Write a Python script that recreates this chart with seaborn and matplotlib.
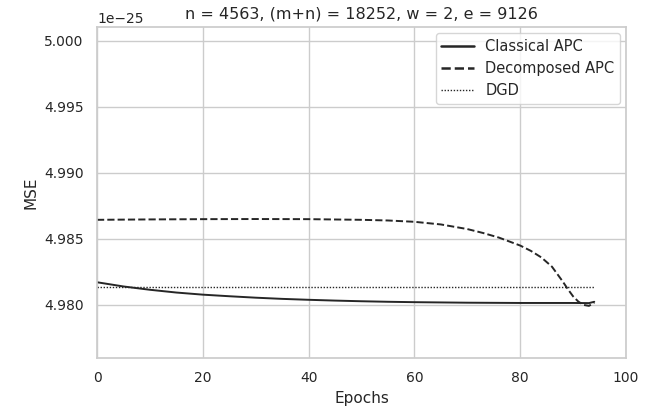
import numpy as np
import pandas as pd
import matplotlib
matplotlib.use("Agg")
import matplotlib.pyplot as plt
import seaborn as sns
from matplotlib.ticker import ScalarFormatter

# -----------------------------
# data (MSE in units of 1e-25)
# -----------------------------
classical_epochs = [0, 5, 10, 15, 20, 25, 30, 35, 40, 45, 50, 55, 60, 65, 70,
                    75, 80, 85, 90, 93, 94]
classical_mse = [4.98172, 4.98140, 4.98115, 4.98094, 4.98078, 4.98066, 4.98055,
                 4.98046, 4.98039, 4.98033, 4.98028, 4.98024, 4.98021, 4.98019,
                 4.98017, 4.98016, 4.98015, 4.98015, 4.98015, 4.98014, 4.98024]

decomposed_epochs = [0, 10, 20, 30, 40, 50, 55, 60, 65, 70, 73, 76, 78, 80, 82,
                     84, 86, 88, 89, 90, 91, 92, 93, 94]
decomposed_mse = [4.98645, 4.98648, 4.98650, 4.98651, 4.98650, 4.98645, 4.98640,
                  4.98630, 4.98610, 4.98575, 4.98545, 4.98510, 4.98480, 4.98450,
                  4.98410, 4.98360, 4.98290, 4.98180, 4.98120, 4.98065, 4.98025,
                  4.98000, 4.97993, 4.98018]

dgd_epochs = [0, 94]
dgd_mse = [4.98137, 4.98137]

title = "n = 4563, (m+n) = 18252, w = 2, e = 9126"

df = pd.concat([
    pd.DataFrame({"Epochs": classical_epochs, "MSE": np.array(classical_mse) * 1e-25,
                  "method": "Classical APC"}),
    pd.DataFrame({"Epochs": decomposed_epochs, "MSE": np.array(decomposed_mse) * 1e-25,
                  "method": "Decomposed APC"}),
    pd.DataFrame({"Epochs": dgd_epochs, "MSE": np.array(dgd_mse) * 1e-25,
                  "method": "DGD"}),
])

# -----------------------------
# style
# -----------------------------
sns.set_theme(style="whitegrid")
plt.rcParams["font.family"] = ["DejaVu Sans"]

fig, ax = plt.subplots(figsize=(6.6, 4.12), dpi=100)
fig.subplots_adjust(left=97 / 660, right=626 / 660, top=1 - 27 / 412, bottom=1 - 358 / 412)

sns.lineplot(data=df, x="Epochs", y="MSE", style="method",
             dashes={"Classical APC": "", "Decomposed APC": (3.7, 1.6), "DGD": (1, 1.2)},
             color="#262626", linewidth=1.4, ax=ax)

# thinner dotted line for DGD (plot + legend)
ax.lines[2].set_linewidth(1.0)

ax.set_xlim(0, 100)
ax.set_ylim(4.97598e-25, 5.00106e-25)
ax.set_yticks(np.array([4.980, 4.985, 4.990, 4.995, 5.000]) * 1e-25)
fmt = ScalarFormatter(useOffset=False)
ax.yaxis.set_major_formatter(fmt)
ax.tick_params(labelsize=10)
ax.yaxis.get_offset_text().set_fontsize(10)
ax.set_xlabel("Epochs", fontsize=11)
ax.set_ylabel("MSE", fontsize=11)
ax.set_title(title, fontsize=11.5)
leg = ax.legend(title=None, fontsize=10.5, loc="upper right", handlelength=2.2,
                borderaxespad=0.4)
for h, w in zip(leg.get_lines(), [1.8, 1.8, 1.0]):
    h.set_linewidth(w)

fig.savefig("out.png", dpi=100)
